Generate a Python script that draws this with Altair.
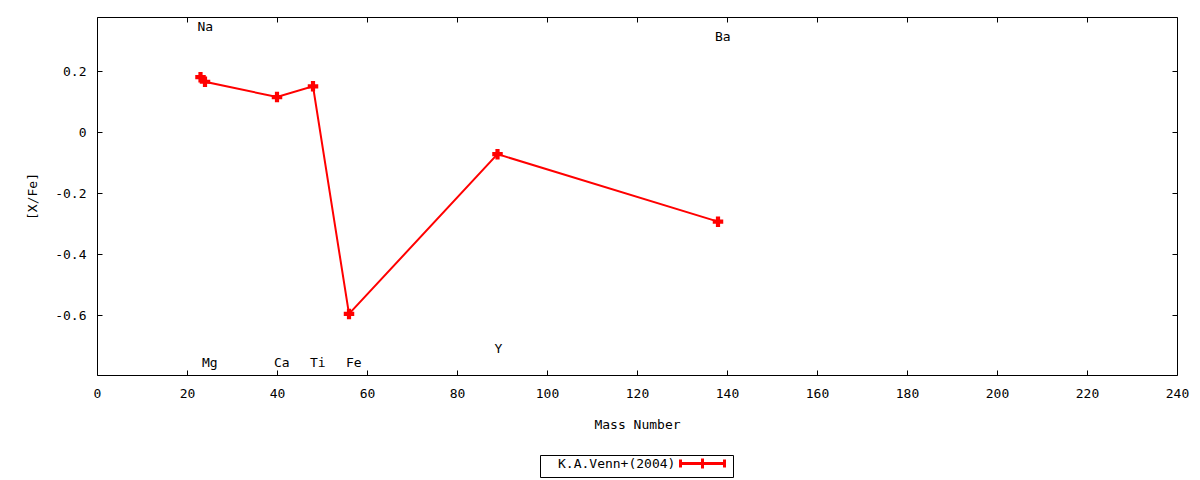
import altair as alt
import pandas as pd

ELEMENTS = ["Na", "Mg", "Ca", "Ti", "Fe", "Y", "Ba"]
MASS = [23, 24, 40, 48, 56, 89, 138]
X_FE = [0.18, 0.165, 0.115, 0.15, -0.595, -0.072, -0.293]
LABEL_Y = [0.344, -0.755, -0.755, -0.755, -0.755, -0.71, 0.313]
SERIES = "K.A.Venn+(2004)"

X_TICKS = list(range(0, 241, 20))
Y_TICKS = [-0.6, -0.4, -0.2, 0, 0.2]
X_DOMAIN = [0, 240]
Y_DOMAIN = [-0.795, 0.377]

FONT = "DejaVu Sans Mono"
RED = "#ff0000"
TICK = 5

# gnuplot style key sample: a line with end bars and a plus in the middle,
# drawn to the right of the label
KEY_PATH = ("M26.4,0H35.2M26.4,-0.8V0.8M35.2,-0.8V0.8"
            "M30.8,-1V1")

df = pd.DataFrame({"element": ELEMENTS, "mass": MASS, "xfe": X_FE,
                   "label_y": LABEL_Y, "series": SERIES})

x_scale = alt.Scale(domain=X_DOMAIN, nice=False, zero=False)
y_scale = alt.Scale(domain=Y_DOMAIN, nice=False, zero=False)

x_main = alt.X("mass:Q", scale=x_scale, axis=alt.Axis(
    orient="bottom", values=X_TICKS, offset=-TICK, tickSize=TICK,
    domain=False, grid=False, labelPadding=12, labelFlush=False,
    title="Mass Number", titlePadding=18))
y_main = alt.Y("xfe:Q", scale=y_scale, axis=alt.Axis(
    orient="left", values=Y_TICKS, offset=-TICK, tickSize=TICK,
    domain=False, grid=False, labelPadding=11, labelFlush=False,
    labelExpr="'' + datum.value", title="[X/Fe]", titlePadding=15))

color = alt.Color("series:N", scale=alt.Scale(range=[RED]), legend=alt.Legend(
    title=None, orient="none", legendX=443, legendY=438,
    strokeColor="black", padding=2, symbolType=KEY_PATH, symbolSize=100,
    symbolStrokeWidth=3, labelOffset=3))

line = alt.Chart(df).mark_line(strokeWidth=2).encode(
    x=x_main, y=y_main, color=color)
points = alt.Chart(df).mark_point(
    shape="cross", filled=True, size=110, opacity=1).encode(
    x=x_main, y=y_main, color=color)
labels = alt.Chart(df).mark_text(
    align="left", baseline="middle", dx=-3, font=FONT, fontSize=13,
    color="black").encode(
    x=x_main, y=alt.Y("label_y:Q", scale=y_scale), text="element:N")

main = alt.layer(line, points, labels)

# mirrored inward ticks on the top and right sides
mirror = alt.Chart(df).mark_point(opacity=0).encode(
    x=alt.X("mass:Q", scale=x_scale, axis=alt.Axis(
        orient="top", values=X_TICKS, offset=-TICK, tickSize=TICK,
        domain=False, grid=False, labels=False, title=None)),
    y=alt.Y("xfe:Q", scale=y_scale, axis=alt.Axis(
        orient="right", values=Y_TICKS, offset=-TICK, tickSize=TICK,
        domain=False, grid=False, labels=False, title=None)),
)

chart = (
    alt.layer(main, mirror)
    .resolve_axis(x="independent", y="independent")
    .properties(
        width=1080, height=358,
        autosize=alt.AutoSizeParams(type="none"),
        padding={"left": 89, "top": 9, "right": 15, "bottom": 105},
    )
    .configure(font=FONT)
    .configure_view(stroke="black", strokeWidth=1)
    .configure_axis(
        labelFont=FONT, titleFont=FONT, labelFontSize=13, titleFontSize=13,
        titleFontWeight="normal", labelColor="black", titleColor="black",
        tickColor="black", tickWidth=1,
    )
    .configure_legend(labelFont=FONT, labelFontSize=13, labelColor="black")
)

chart.save("out.html", embed_options={"renderer": "svg", "actions": False})
